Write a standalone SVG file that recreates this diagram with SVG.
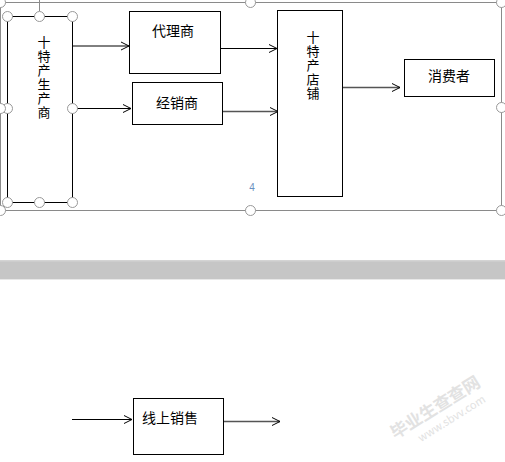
<svg xmlns="http://www.w3.org/2000/svg" width="505" height="462" viewBox="0 0 505 462">
<defs>
<marker id="ah" markerWidth="10" markerHeight="10" refX="9" refY="5" orient="auto" markerUnits="userSpaceOnUse">
<path d="M1,1 L9,5 L1,9" fill="none" stroke="#000" stroke-width="1"/>
</marker>
<style>
.box{fill:#fff;stroke:#000;stroke-width:1}
.t{font-family:"Liberation Sans","Noto Sans CJK SC",sans-serif;font-size:14px;fill:#000}
.tv{font-family:"Liberation Sans","Noto Sans CJK SC",sans-serif;font-size:13px;fill:#000;text-anchor:middle}
.h{fill:#fff;stroke:#999;stroke-width:1}
.sel{fill:none;stroke:#8a8a8a;stroke-width:1}
.c{fill:none;stroke:#000;stroke-width:1;marker-end:url(#ah)}
.cg{fill:none;stroke:#555;stroke-width:1.5;marker-end:url(#ah)}
.wm{font-family:"Noto Sans CJK SC",sans-serif;fill:#e2e2e2}
</style>
</defs>
<rect width="505" height="462" fill="#fff"/>
<g id="frame">
<rect class="sel" x="0.5" y="2.5" width="501" height="208"/>
<line class="sel" x1="39.5" y1="0" x2="39.5" y2="11"/>
</g>
<g id="connectors">
<path class="c" d="M72,46 H129"/>
<path class="c" d="M77,108.5 H131"/>
<path class="c" d="M220,48.5 H277"/>
<path class="cg" d="M222,111.5 H278"/>
<path class="cg" d="M342,87.5 H400"/>
<path class="c" d="M72,419.5 H132"/>
<path class="cg" d="M223,421.5 H280"/>
</g>
<g id="producer">
<rect class="box" x="7.5" y="16.5" width="65" height="186"/>
<text class="tv"><tspan x="44" y="47">十</tspan><tspan x="44" y="61">特</tspan><tspan x="44" y="75">产</tspan><tspan x="44" y="89">生</tspan><tspan x="44" y="103">产</tspan><tspan x="44" y="117">商</tspan></text>
</g>
<g id="handles">
<circle class="h" cx="7.5" cy="16.5" r="5"/>
<circle class="h" cx="39.5" cy="16.5" r="5"/>
<circle class="h" cx="72.5" cy="16.5" r="5"/>
<circle class="h" cx="7.5" cy="108.5" r="5"/>
<circle class="h" cx="72.5" cy="108.5" r="5"/>
<circle class="h" cx="7.5" cy="202.5" r="5"/>
<circle class="h" cx="39.5" cy="202.5" r="5"/>
<circle class="h" cx="72.5" cy="202.5" r="5"/>
<circle class="h" cx="0.5" cy="2.5" r="5"/>
<circle class="h" cx="250.5" cy="2.5" r="5"/>
<circle class="h" cx="501.5" cy="2.5" r="5"/>
<circle class="h" cx="0.5" cy="108.5" r="5"/>
<circle class="h" cx="501.5" cy="107.5" r="5"/>
<circle class="h" cx="0.5" cy="210.5" r="5"/>
<circle class="h" cx="250.5" cy="210.5" r="5"/>
<circle class="h" cx="501.5" cy="210.5" r="5"/>
</g>
<g id="agent">
<rect class="box" x="129.5" y="11.5" width="91" height="62"/>
<text class="t" x="173" y="36" text-anchor="middle">代理商</text>
</g>
<g id="dealer">
<rect class="box" x="132.5" y="82.5" width="90" height="42"/>
<text class="t" x="177" y="108" text-anchor="middle">经销商</text>
</g>
<g id="store">
<rect class="box" x="277.5" y="10.5" width="65" height="186"/>
<text class="tv"><tspan x="313" y="42">十</tspan><tspan x="313" y="56">特</tspan><tspan x="313" y="70">产</tspan><tspan x="313" y="84">店</tspan><tspan x="313" y="98">铺</tspan></text>
</g>
<g id="consumer">
<rect class="box" x="404.5" y="59.5" width="90" height="37"/>
<text class="t" x="449" y="81" text-anchor="middle">消费者</text>
</g>
<text x="252" y="191" font-family="Liberation Sans,sans-serif" font-size="10" fill="#6a8fc0" text-anchor="middle">4</text>
<g id="band">
<rect x="0" y="260" width="505" height="20" fill="#c6c6c6"/>
<rect x="0" y="260" width="505" height="1.5" fill="#d4d4d4"/>
<rect x="0" y="279" width="505" height="1" fill="#e8e8e8"/>
</g>
<g id="online">
<rect class="box" x="133.5" y="398.5" width="90" height="56"/>
<text class="t" x="142" y="423">线上销售</text>
</g>
<g id="watermark" transform="rotate(-32 440 415)">
<text class="wm" x="440" y="412" font-size="17" text-anchor="middle" font-weight="bold">毕业生查查网</text>
<text class="wm" x="448" y="428" font-size="11" text-anchor="middle" font-family="Liberation Serif,serif">www.sbvv.com</text>
</g>
</svg>
